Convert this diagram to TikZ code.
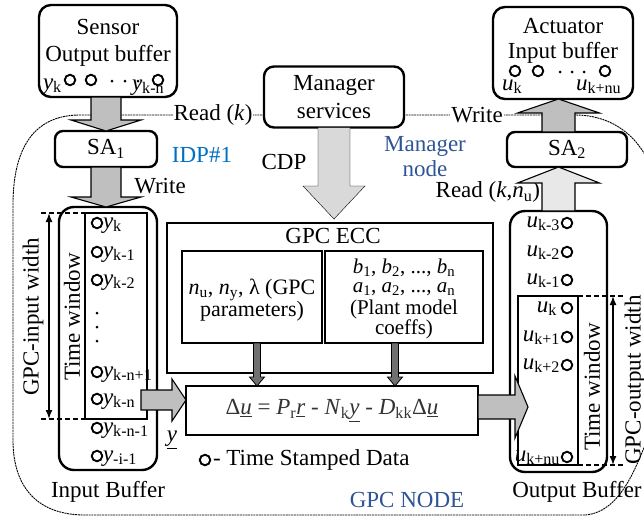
\documentclass[tikz,border=0pt]{standalone}
\usepackage{fontspec}
\setmainfont{Liberation Serif}
\usetikzlibrary{arrows.meta,calc}
\definecolor{idpblue}{RGB}{0,112,192}
\definecolor{mgrblue}{RGB}{47,85,151}
\definecolor{arrgray}{RGB}{191,191,191}
\definecolor{cdpgray}{RGB}{217,217,217}
\definecolor{ltgray}{RGB}{232,232,232}
\definecolor{smallgray}{RGB}{112,112,112}
\newcommand{\vy}[1]{\textit{y}\textsubscript{#1}}
\newcommand{\vu}[1]{\textit{u}\textsubscript{#1}}
% vertical block arrow: [style]{start}{tip}{shaft half}{head half}{signed head length}
\newcommand{\blkv}[6][]{\draw[#1] let \p1=(#2), \p2=(#3) in
  ({\x2-#4},\y1) -- ({\x2-#4},{\y2+#6}) -- ({\x2-#5},{\y2+#6}) -- (\x2,\y2) --
  ({\x2+#5},{\y2+#6}) -- ({\x2+#4},{\y2+#6}) -- ({\x2+#4},\y1) -- cycle;}
% horizontal block arrow to the right
\newcommand{\blkh}[6][]{\draw[#1] let \p1=(#2), \p2=(#3) in
  (\x1,{\y2+#4}) -- ({\x2-#6},{\y2+#4}) -- ({\x2-#6},{\y2+#5}) -- (\x2,\y2) --
  ({\x2-#6},{\y2-#5}) -- ({\x2-#6},{\y2-#4}) -- (\x1,{\y2-#4}) -- cycle;}
\begin{document}
\begin{tikzpicture}[x=1pt,y=-1pt,
  every node/.style={font=\fontsize{23}{28}\selectfont, inner sep=0pt, outer sep=0pt},
  rbox/.style={draw, line width=2.4pt, rounded corners=12pt},
  sqbox/.style={draw, line width=2pt},
  twin/.style={draw, line width=1.6pt},
  ts/.style={circle, draw, line width=1.9pt, minimum size=10.5pt},
  dotn/.style={circle, fill, minimum size=3pt},
  blk/.style={draw, line width=1.1pt, fill=arrgray},
  blklt/.style={draw, line width=1.1pt, fill=ltgray},
  blkcdp/.style={fill=cdpgray},
  blksmall/.style={draw, line width=0.8pt, fill=smallgray},
  outline/.style={line width=0.9pt, dash pattern=on 2pt off 0.7pt},
  dim/.style={line width=1.5pt, {Latex[length=9pt,width=7pt]}-{Latex[length=9pt,width=7pt]}},
  dimdash/.style={line width=1.5pt, dash pattern=on 5pt off 3pt},
  ltxt/.style={anchor=base west},
  rtxt/.style={anchor=base east},
  innertxt/.style={align=center, font=\fontsize{22}{20}\selectfont},
  coeftxt/.style={align=center, font=\fontsize{21}{19}\selectfont}
]
\useasboundingbox (0,0) rectangle (644,517);

% GPC node outline
\draw[outline] (13,205) .. controls (13,140) and (40,115) .. (80,115) -- (575,115)
  .. controls (615,115) and (645,140) .. (655,180) -- (655,420)
  .. controls (640,455) and (625,512) .. (585,515) -- (85,515)
  .. controls (40,515) and (13,490) .. (13,440) -- cycle;

% Sensor output buffer
\node[rbox, minimum width=138pt, minimum height=92pt] (sensor) at (108,51) {};
\node (sensorA) at (108,27) {Sensor};
\node (sensorB) at (108,56) {Output buffer};
\node[ts] (sc1) at (70,80) {};
\node[ts] (sc2) at (91,80) {};
\node[dotn] (sd1) at (112,81) {};
\node[dotn] (sd2) at (125,81) {};
\node[dotn] (sd3) at (138,81) {};
\node[ts] (sc3) at (158,80) {};
\node[ltxt] (syk) at (43,89) {\vy{k}};
\node[ltxt] (sykn) at (132,90) {\vy{k-n}};

% Actuator input buffer
\node[rbox, minimum width=140pt, minimum height=92pt] (act) at (563,53) {};
\node (actA) at (563,26) {Actuator};
\node (actB) at (563,53) {Input buffer};
\node[ts] (ac1) at (515,71) {};
\node[ts] (ac2) at (538,71) {};
\node[dotn] (ad1) at (560,72) {};
\node[dotn] (ad2) at (572,72) {};
\node[dotn] (ad3) at (584,72) {};
\node[ts] (ac3) at (605,71) {};
\node[ltxt] (auk) at (502,90) {\vu{k}};
\node[ltxt] (auknu) at (576,90) {\vu{k+nu}};

% Manager services
\node[rbox, rounded corners=10pt, fill=white, minimum width=140pt, minimum height=61pt, align=center] (mgr) at (334,97) {Manager\\services};

% SA boxes
\node[rbox, rounded corners=8pt, fill=white, minimum width=102pt, minimum height=36pt] (sa1) at (106,149) {SA\textsubscript{1}};
\node[rbox, rounded corners=8pt, fill=white, minimum width=120pt, minimum height=35pt] (sa2) at (567,149.5) {SA\textsubscript{2}};

% labels near top
\node[fill=white, inner xsep=1pt, inner ysep=2pt] (readk) at (213,115) {Read (\textit{k})};
\node[fill=white, inner xsep=1pt, inner ysep=2pt] (writetop) at (477,115) {Write};
\node (write1) at (160,186) {Write};
\node[text=idpblue] (idp) at (202,155) {IDP\#1};
\node (cdp) at (284,162) {CDP};
\node[text=mgrblue, align=center, font=\fontsize{23}{25}\selectfont] (mnode) at (425,157) {Manager\\node};
\node[anchor=east] (readkn) at (540,192) {Read (\textit{k},\textit{n}\textsubscript{u})};

% Input buffer
\node[rbox, rounded corners=15pt, minimum width=98pt, minimum height=263pt] (inbuf) at (108,338.5) {};
\node[twin, minimum width=62pt, minimum height=206pt] (tw1) at (116,316) {};
\node[rotate=90] (tw1t) at (72,317) {Time window};
\node[ts] (i1) at (97,223) {};
\node[ts] (i2) at (97,252) {};
\node[ts] (i3) at (97,280) {};
\node[dotn] (id1) at (97,313) {};
\node[dotn] (id2) at (97,327) {};
\node[dotn] (id3) at (97,341) {};
\node[ts] (i4) at (97,372) {};
\node[ts] (i5) at (97,399) {};
\node[ts] (i6) at (97,428) {};
\node[ts] (i7) at (97,456) {};
\node[ltxt] (il1) at (103,228) {\vy{k}};
\node[ltxt] (il2) at (103,257) {\vy{k-1}};
\node[ltxt] (il3) at (103,285) {\vy{k-2}};
\node[ltxt] (il4) at (103,377) {\vy{k-n+1}};
\node[ltxt] (il5) at (103,404) {\vy{k-n}};
\node[ltxt] (il6) at (103,433) {\vy{k-n-1}};
\node[ltxt] (il7) at (103,461) {\vy{-i-1}};
\node[rotate=90] (gpcin) at (33,317) {GPC-input width};
\coordinate (dinT) at (49,213);
\coordinate (dinB) at (49,419);
\coordinate (dinTL) at (41,213);
\coordinate (dinBL) at (41,419);
\draw[dim] (dinT) -- (dinB);
\draw[dimdash] (dinTL) -- (tw1.north west);
\draw[dimdash] (dinBL) -- (tw1.south west);
\node (yvec) at (172,440) {\underline{\textit{y}}};
\node (inlab) at (108,492) {Input Buffer};

% GPC ECC
\node[sqbox, minimum width=326pt, minimum height=150pt] (ecc) at (330,298) {};
\node (ecct) at (333,236) {GPC ECC};
\node[sqbox, minimum width=140pt, minimum height=92pt] (param) at (252,297) {};
\node[innertxt] (paramt) at (252,300) {\textit{n}\textsubscript{u}, \textit{n}\textsubscript{y}, λ (GPC\\parameters)};
\node[sqbox, minimum width=158pt, minimum height=92pt] (coef) at (404,297) {};
\node[coeftxt] (coeft) at (404,299) {\textit{b}\textsubscript{1}, \textit{b}\textsubscript{2}, ..., \textit{b}\textsubscript{n}\\\textit{a}\textsubscript{1}, \textit{a}\textsubscript{2}, ..., \textit{a}\textsubscript{n}\\[3pt](Plant model\\coeffs)};

% Equation
\node[sqbox, minimum width=292pt, minimum height=49pt, text=black!80] (eq) at (332,410.5)
  {Δ\underline{\textit{u}} = \textit{P}\textsubscript{r}\underline{\textit{r}} - \textit{N}\textsubscript{k}\underline{\textit{y}} - \textit{D}\textsubscript{kk}Δ\underline{\textit{u}}};

% Output buffer
\node[rbox, rounded corners=15pt, minimum width=97pt, minimum height=261pt] (outbuf) at (558.5,341.5) {};
\node[twin, minimum width=60pt, minimum height=169pt] (tw2) at (548,380.5) {};
\node[rotate=90] (tw2t) at (592,387) {Time window};
\node[ts] (o1) at (567,223) {};
\node[ts] (o2) at (567,252) {};
\node[ts] (o3) at (567,280) {};
\node[ts] (o4) at (567,308) {};
\node[ts] (o5) at (567,337) {};
\node[ts] (o6) at (567,365) {};
\node[ts] (o7) at (567,457) {};
\node[rtxt] (ol1) at (560,227) {\vu{k-3}};
\node[rtxt] (ol2) at (560,256) {\vu{k-2}};
\node[rtxt] (ol3) at (560,284) {\vu{k-1}};
\node[rtxt] (ol4) at (557,312) {\vu{k}};
\node[rtxt] (ol5) at (560,341) {\vu{k+1}};
\node[rtxt] (ol6) at (560,369) {\vu{k+2}};
\node[rtxt] (ol7) at (560,461) {\vu{k+nu}};
\coordinate (doT) at (613,296);
\coordinate (doB) at (613,465);
\coordinate (doTR) at (625,296);
\coordinate (doBR) at (625,465);
\draw[dim] (doT) -- (doB);
\draw[dimdash] (tw2.north east) -- (doTR);
\draw[dimdash] (tw2.south east) -- (doBR);
\node[rotate=90] (gpcout) at (635,380) {GPC-output width};
\node (outlab) at (577,492) {Output Buffer};

% legend and node title
\node[ts] (leg) at (205,460) {};
\node[anchor=west] (legt) at (213,460) {- Time Stamped Data};
\node[text=mgrblue] (gpcnode) at (407,500) {GPC NODE};

% block arrows
\blkv[blk]{sensor.south}{sa1.north}{15pt}{35pt}{11pt}
\blkv[blk]{sa1.south}{sa1.south |- inbuf.north}{15pt}{35pt}{10pt}
\coordinate (cdptip) at ([yshift=4pt]mgr.south |- ecc.north);
\blkv[blkcdp]{mgr.south}{cdptip}{16pt}{31pt}{33pt}
\blkv[blk]{sa2.north}{outbuf.north |- act.south}{16.5pt}{41pt}{-14pt}
\blkv[blklt]{outbuf.north}{outbuf.north |- sa2.south}{16.5pt}{41pt}{-16pt}
\coordinate (pa) at ([xshift=5pt]param.south);
\coordinate (ca) at ([xshift=-9pt]coef.south);
\blkv[blksmall]{pa}{pa |- eq.north}{3.5pt}{7.5pt}{9pt}
\blkv[blksmall]{ca}{ca |- eq.north}{3.5pt}{7.5pt}{9pt}
\coordinate (inarr) at (141,400);
\blkh[blk]{inarr}{eq.west |- inarr}{10pt}{21pt}{14pt}
\coordinate (outarr) at (528,407);
\blkh[blk]{eq.east |- outarr}{outarr}{12pt}{31pt}{13pt}
\end{tikzpicture}
\end{document}
